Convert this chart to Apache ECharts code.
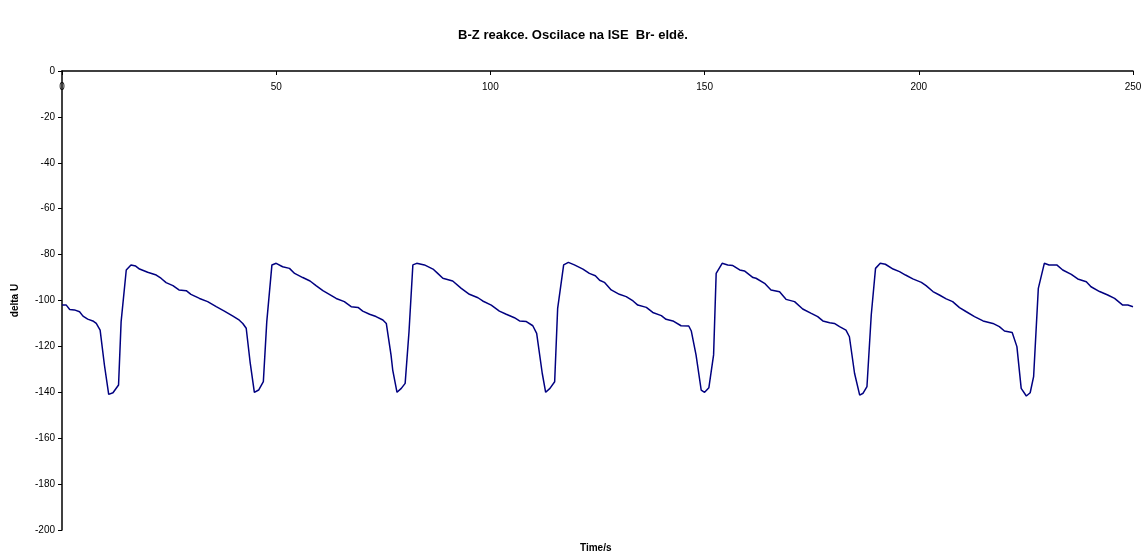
<!DOCTYPE html>
<html>
<head>
<meta charset="utf-8">
<script src="https://cdn.jsdelivr.net/npm/echarts@6/dist/echarts.min.js"></script>
<style>html,body{margin:0;padding:0;background:#fff}#c{width:1146px;height:559px}</style>
</head>
<body>
<div id="c"></div>
<script>
const chartTitle = 'B-Z reakce. Oscilace na ISE  Br- eldě.';
const xName = 'Time/s';
const yName = 'delta U';
const time = [0,1.0,1.8,2.9,4.1,4.9,6.0,7.2,8.0,8.9,9.9,10.9,11.9,13.2,13.8,15.0,16.1,17.2,18.1,20.0,22.0,23.1,24.3,25.9,27.3,29.0,30.1,32.1,34.0,36.0,37.9,39.9,41.4,42.2,43.0,43.9,44.9,45.9,47.0,47.8,49.0,50.0,51.5,53.1,54.3,56.2,57.9,59.3,60.9,62.4,64.0,65.9,67.5,69.1,70.2,71.8,73.3,74.9,75.7,76.8,77.2,78.2,79.2,80.1,81.0,81.9,82.8,84.6,86.6,87.7,88.9,91.2,93.2,95.1,97.1,98.2,100.2,102.1,103.7,105.6,106.8,108.4,109.9,110.8,112.1,112.9,113.9,115.0,115.7,117.1,118.2,119.6,121.6,123.1,124.5,125.5,126.6,128.2,130.1,131.7,133.3,134.4,136.4,137.9,139.9,141.0,142.6,144.5,146.3,146.9,148.0,149.2,150.0,151.0,152.1,152.7,154.1,155.4,156.6,158.2,159.3,161.3,162.0,164.0,165.5,167.5,169.0,171.0,172.9,174.9,176.4,177.6,179.2,180.3,181.5,183.0,183.8,185.0,186.2,187.0,187.9,188.9,189.9,191.0,192.2,194.0,195.5,196.9,198.6,200.6,201.7,203.3,204.8,206.4,207.9,209.5,211.1,213.0,215.0,217.3,218.8,220.0,221.8,222.9,223.9,225.1,226.0,226.8,227.9,229.3,230.4,232.2,233.6,235.6,237.1,239.1,240.2,242.2,244.1,245.7,247.6,248.8,250.0];
const deltaU = [-102,-102,-103.9,-104.1,-104.9,-106.8,-108.1,-108.9,-110,-112.9,-128.1,-140.9,-140.2,-136.8,-109.2,-86.7,-84.5,-85,-86.3,-87.7,-88.9,-90.3,-92.2,-93.5,-95.4,-95.7,-97.3,-99.1,-100.5,-102.7,-104.6,-106.8,-108.6,-110,-112.1,-126.7,-140,-139,-135.4,-109.2,-84.5,-83.8,-85.3,-86,-88.2,-90,-91.5,-93.5,-95.7,-97.3,-99.1,-100.5,-102.7,-103,-104.6,-106,-107,-108.5,-110,-123.7,-130.3,-140,-138.3,-136.1,-113.6,-84.5,-83.8,-84.5,-86.3,-88.2,-90.3,-91.5,-94.7,-97.3,-98.8,-100.2,-102,-104.6,-106,-107.5,-108.9,-109.2,-111,-114.3,-131.7,-140,-138.3,-135.4,-103.4,-84.5,-83.4,-84.5,-86.3,-88.2,-89.2,-91.2,-92.1,-95.4,-97.3,-98.3,-100.2,-102,-103,-105.2,-106.6,-108.2,-108.9,-111,-111.1,-113.3,-123.7,-139,-140,-138,-123.7,-88.2,-83.8,-84.5,-84.8,-86.7,-87.1,-90,-90.3,-92.5,-95.4,-96.2,-99.5,-100.5,-103.7,-105.6,-107,-108.9,-109.7,-110,-111.4,-112.9,-115.8,-131.7,-141.2,-140.4,-137.5,-106.3,-86,-83.8,-84.2,-86.3,-87.4,-88.9,-90.6,-92.1,-93.5,-96.1,-97.6,-99.3,-100.5,-103.1,-104.9,-107,-108.9,-110,-111.4,-113.3,-113.9,-120.1,-138.3,-141.6,-140.2,-133.2,-94.7,-83.8,-84.5,-84.5,-86.7,-88.6,-90.6,-91.8,-94,-96.1,-97.6,-99.1,-102,-102,-102.7];

const chart = echarts.init(document.getElementById('c'), null, {renderer: 'canvas'});
const font = 'Liberation Sans, Arial, sans-serif';
chart.setOption({
  animation: false,
  backgroundColor: '#fff',
  title: {
    text: chartTitle, left: 'center', top: 24,
    textStyle: {fontFamily: font, fontSize: 13, fontWeight: 'bold', color: '#000'}
  },
  graphic: [{
    type: 'text', left: 580, top: 543,
    style: {text: xName, font: 'bold 10px Liberation Sans, Arial, sans-serif', fill: '#000'}
  }],
  grid: {left: 62, right: 13, top: 71, bottom: 29, containLabel: false},
  xAxis: {
    type: 'value', position: 'top', min: 0, max: 250, interval: 50,
    axisLine: {show: true, lineStyle: {color: '#000', width: 1.5}},
    axisTick: {show: true, inside: true, length: 4, lineStyle: {color: '#000'}},
    axisLabel: {inside: true, margin: 11, color: '#000', fontFamily: font, fontSize: 10, verticalAlign: 'top'},
    splitLine: {show: false}
  },
  yAxis: {
    type: 'value', min: -200, max: 0, interval: 20,
    name: yName, nameLocation: 'middle', nameGap: 42, nameRotate: 90,
    nameTextStyle: {fontFamily: font, fontSize: 10, fontWeight: 'bold', color: '#000'},
    axisLine: {show: true, lineStyle: {color: '#000', width: 1.5}},
    axisTick: {show: true, length: 4, lineStyle: {color: '#000'}},
    axisLabel: {margin: 7, color: '#000', fontFamily: font, fontSize: 10},
    splitLine: {show: false}
  },
  series: [{
    type: 'line', showSymbol: false,
    data: time.map((t, i) => [t, deltaU[i]]),
    lineStyle: {color: '#000080', width: 1.5},
    itemStyle: {color: '#000080'}
  }]
});
</script>
</body>
</html>
